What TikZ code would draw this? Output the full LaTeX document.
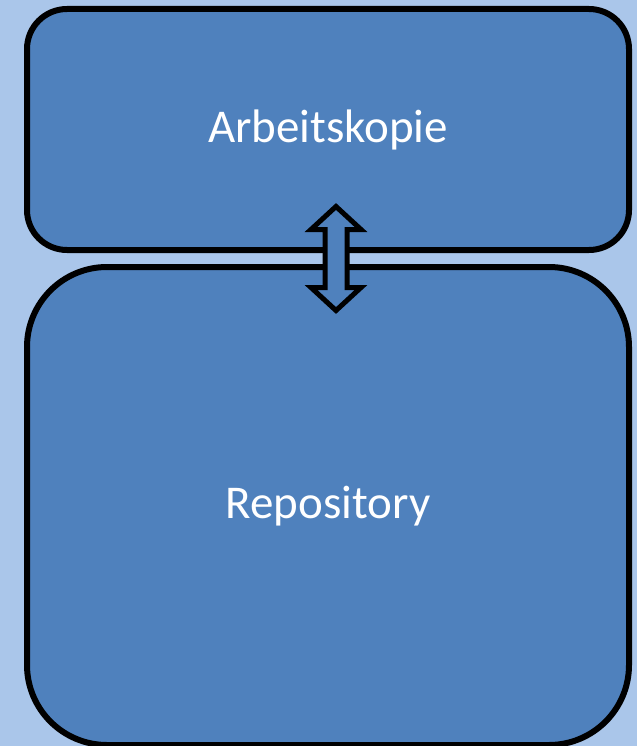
\documentclass[tikz,border=0pt]{standalone}
\usepackage{fontspec}
\setmainfont{Carlito}
\usetikzlibrary{calc}

\definecolor{hintergrund}{HTML}{AAC6EA}
\definecolor{kastenblau}{HTML}{4F81BD}

\tikzset{
  kasten/.style={draw=black,line width=6pt,fill=kastenblau,text=white,
    font=\fontsize{47}{56}\selectfont,minimum width=602pt},
}

\begin{document}
\begin{tikzpicture}[x=1pt,y=-1pt]
\fill[color=hintergrund] (0,0) rectangle (637,746);
\useasboundingbox (0,0) rectangle (637,746);
\node[kasten,minimum height=241pt,rounded corners=40pt] (kopie) at (328,129.5) {Arbeitskopie};
\node[kasten,minimum height=478pt,rounded corners=80pt] (repo) at (328,506) {Repository};
% Doppelpfeil zwischen den Kaesten
\coordinate (mitte) at ($(kopie.south)!0.5!(repo.north)+(8,0)$);
\draw[line width=5pt,fill=kastenblau,miter limit=10]
  (mitte) ++(0,-52) -- ++(25,23) -- ++(-14,0) -- ++(0,58) -- ++(14,0)
  -- ++(-25,23) -- ++(-25,-23) -- ++(14,0) -- ++(0,-58) -- ++(-14,0) -- cycle;
\end{tikzpicture}
\end{document}
